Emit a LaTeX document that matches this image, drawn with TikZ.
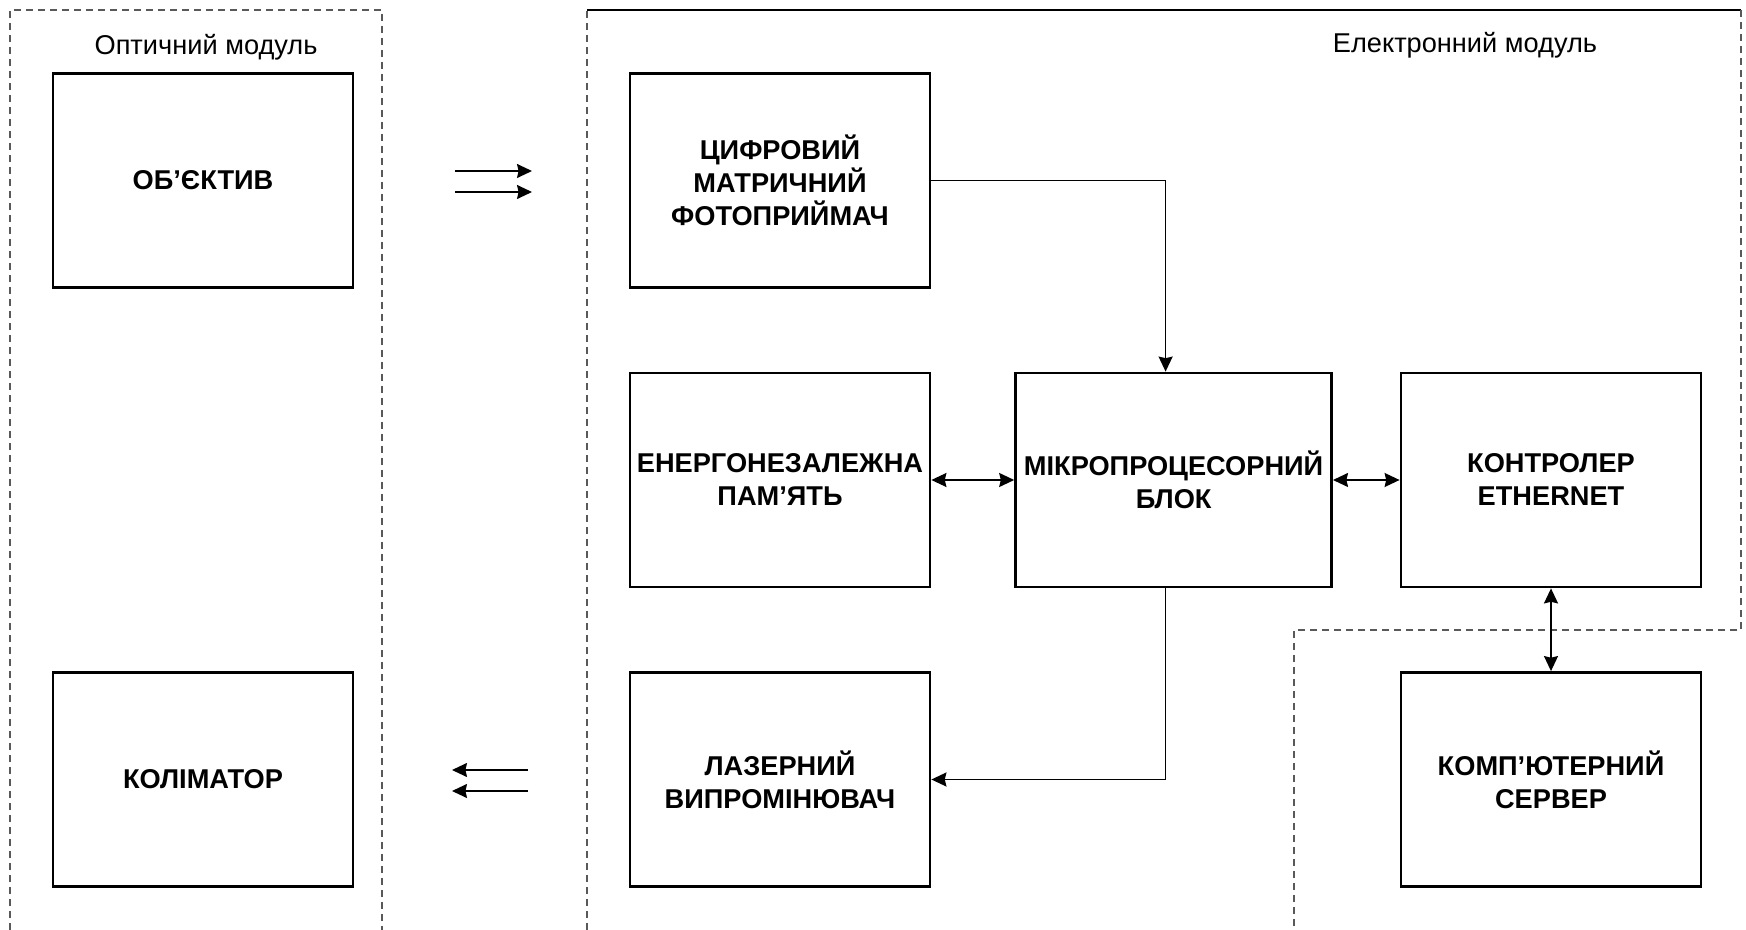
\documentclass[tikz,border=0pt]{standalone}
\usepackage{fontspec}
\setmainfont{Liberation Sans}
\usetikzlibrary{arrows.meta,calc}
\begin{document}
\begin{tikzpicture}[x=0.5pt,y=-0.5pt,
  blk/.style={draw, line width=1.4pt, minimum width=150pt, minimum height=107pt,
    align=center, inner sep=0pt, font=\fontsize{13.6pt}{16.5pt}\selectfont\bfseries},
  conn/.style={line width=0.8pt, -{Stealth[length=7.5pt,width=7pt,inset=0.8pt]}},
  biconn/.style={line width=0.8pt, {Stealth[length=7.5pt,width=7pt,inset=0.8pt]}-{Stealth[length=7.5pt,width=7pt,inset=0.8pt]}},
  frame/.style={line width=0.55pt, black!65, dash pattern=on 3.5pt off 2.5pt},
  title/.style={font=\fontsize{13.6pt}{15pt}\selectfont, inner sep=0pt}]
\useasboundingbox (0,0) rectangle (1746,930);
% frames
\draw[frame] (10,930) -- (10,10) -- (382,10) -- (382,930);
\draw[frame] (587,930) -- (587,10);
\draw[line width=0.8pt] (587,10) -- (1741,10);
\draw[frame] (1741,10) -- (1741,630) -- (1294,630) -- (1294,930);
\node[title] (t1) at (206,47) {Оптичний модуль};
\node[title] (t2) at (1465,45) {Електронний модуль};
% blocks
\node[blk] (obj) at (203,180.5) {ОБ’ЄКТИВ};
\node[blk] (kol) at (203,779.5) {КОЛІМАТОР};
\node[blk] (cyf) at (780,180.5) {ЦИФРОВИЙ\\МАТРИЧНИЙ\\ФОТОПРИЙМАЧ};
\node[blk] (ener) at (780,480) {ЕНЕРГОНЕЗАЛЕЖНА\\ПАМ’ЯТЬ};
\node[blk, minimum width=158pt] (mikro) at (1173.6,480) {МІКРОПРОЦЕСОРНИЙ\\БЛОК};
\node[blk] (kontr) at (1551,480) {КОНТРОЛЕР\\ETHERNET};
\node[blk] (komp) at (1551,779.5) {КОМП’ЮТЕРНИЙ\\СЕРВЕР};
\node[blk] (laz) at (780,779.5) {ЛАЗЕРНИЙ\\ВИПРОМІНЮВАЧ};
% connectors
\draw[conn] (cyf.east) -| ([xshift=-4pt]mikro.north);
\draw[conn] ([xshift=-4pt]mikro.south) |- (laz.east);
\draw[biconn] (ener.east) -- (mikro.west);
\draw[biconn] (mikro.east) -- (kontr.west);
\draw[biconn] (kontr.south) -- (komp.north);
% free light arrows
\coordinate (r1s) at (455,171); \coordinate (r1e) at (532,171);
\coordinate (r2s) at (455,192); \coordinate (r2e) at (532,192);
\coordinate (l1s) at (528,770); \coordinate (l1e) at (452,770);
\coordinate (l2s) at (528,791); \coordinate (l2e) at (452,791);
\draw[conn] (r1s) -- (r1e);
\draw[conn] (r2s) -- (r2e);
\draw[conn] (l1s) -- (l1e);
\draw[conn] (l2s) -- (l2e);
\end{tikzpicture}
\end{document}
